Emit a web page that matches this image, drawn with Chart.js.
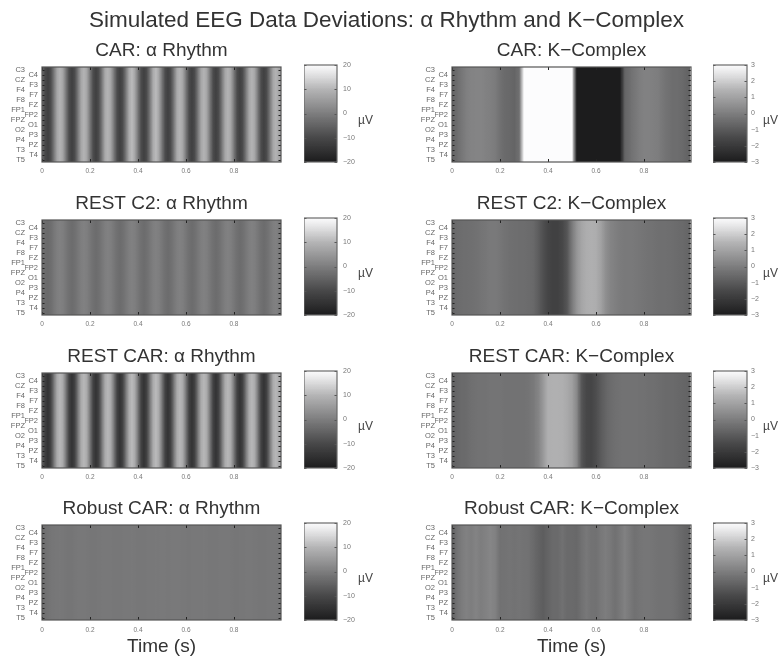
<!DOCTYPE html>
<html><head><meta charset="utf-8">
<script src="https://cdn.jsdelivr.net/npm/chart.js@4/dist/chart.umd.min.js"></script>
<style>
html,body{margin:0;padding:0;background:#fff;overflow:hidden}
#page{position:relative;width:781px;height:660px;filter:blur(0.6px);font-family:"Liberation Sans",Arial,sans-serif}
canvas{position:absolute;display:block}
.main{position:absolute;left:0;width:773px;top:8px;text-align:center;font-size:22.5px;line-height:24px;color:#333;white-space:nowrap}
.unit{position:absolute;font-size:12px;line-height:14px;color:#444}
</style></head><body><div id="page"><div class="main">Simulated EEG Data Deviations: α Rhythm and K−Complex</div></div>
<script>
const channels=['C3','C4','CZ','F3','F4','F7','F8','FZ','FP1','FP2','FPZ','O1','O2','P3','P4','PZ','T3','T4','T5'];
const xTickStep=0.2;
const alphaTimes=[0,.0125,.025,.0375,.05,.0625,.075,.0875,.1,.1125,.125,.1375,.15,.1625,.175,.1875,.2,.2125,.225,.2375,.25,.2625,.275,.2875,.3,.3125,.325,.3375,.35,.3625,.375,.3875,.4,.4125,.425,.4375,.45,.4625,.475,.4875,.5,.5125,.525,.5375,.55,.5625,.575,.5875,.6,.6125,.625,.6375,.65,.6625,.675,.6875,.7,.7125,.725,.7375,.75,.7625,.775,.7875,.8,.8125,.825,.8375,.85,.8625,.875,.8875,.9,.9125,.925,.9375,.95,.9625,.975,.9875];
const kTimes=[0,.02,.04,.06,.08,.1,.12,.14,.16,.18,.2,.22,.24,.26,.28,.3,.32,.34,.36,.38,.4,.42,.44,.46,.48,.5,.52,.54,.56,.58,.6,.62,.64,.66,.68,.7,.72,.74,.76,.78,.8,.82,.84,.86,.88,.9,.92,.94,.96,.98];
const alphaCar=[-3,-10,-12,-9,-1,7,10,7,-1,-9,-12,-9,-1,7,10,7,-1,-9,-12,-9,-1,8,10,7,-1,-9,-12,-9,-1,8,11,7,-1,-9,-12,-9,-1,8,11,7,-1,-9,-12,-9,-1,8,10,7,-1,-9,-12,-9,-1,7,10,7,-1,-9,-12,-9,-1,7,10,7,-1,-9,-12,-9,-1,7,10,7,-1,-9,-12,-9,-1,7,10,7];
const alphaRestC2=[-2.5,-3.4,-3.8,-2.8,-1.2,.2,.7,.2,-1.2,-2.5,-3.2,-2.5,-1.2,.2,.7,.2,-1.2,-2.5,-3.2,-2.5,-1.2,.2,.7,.2,-1.2,-2.5,-3.2,-2.5,-1.2,.2,.7,.2,-1.2,-2.5,-3.2,-2.5,-1.2,.2,.7,.2,-1.2,-2.5,-3.2,-2.5,-1.2,.2,.7,.2,-1.2,-2.5,-3.2,-2.5,-1.2,.2,.7,.2,-1.2,-2.5,-3.2,-2.5,-1.2,.2,.7,.2,-1.2,-2.5,-3.2,-2.5,-1.2,.2,.7,.2,-1.2,-2.5,-3.2,-2.5,-1.2,.2,.7,-.3];
const alphaRestCar=[-5,-12,-15,-11,-1,8,10.5,8,-1,-11,-15,-11,-1,8,10.5,8,-1,-11,-15,-11,-1,8,10.5,8,-1,-11,-15,-11,-1,8,11,8,-1,-11,-15,-11,-1,8,11,8,-1,-11,-15,-11,-1,8,10.5,8,-1,-11,-15,-11,-1,8,10.5,8,-1,-11,-15,-11,-1,8,10.5,8,-1,-11,-15,-11,-1,8,10.5,8,-1,-11,-15,-11,-1,8,10.5,8];
const alphaRobust=[-2.8,-2.6,-2,-1.5,-1.3,-1.1,-1,-1.2,-1.4,-1.5,-1.5,-1.2,-1,-1,-.9,-1.1,-1.3,-1.4,-1.3,-1.1,-1,-1,-.9,-1,-1.2,-1.2,-1.1,-1,-.9,-.9,-.8,-1,-1.1,-1.2,-1.1,-1,-.9,-.9,-.8,-.9,-.7,-.8,-.9,-.8,-.8,-.8,-.8,-.9,-1,-1.1,-1,-.9,-.9,-.9,-.8,-1,-1.1,-1.2,-1.1,-1,-.9,-1,-.9,-1.1,-1.3,-1.3,-1.2,-1.1,-1,-1,-1,-1.1,-1.3,-1.4,-1.3,-1.2,-1.1,-1.1,-1.1,-1.4];
const kCar=[-.7,-.5,-.2,.05,.15,.2,.2,.1,.05,-.05,-.35,-.55,-.6,-.7,-.4,3.3,3.3,3.3,3.3,3.3,3.3,3.3,3.3,3.3,3.3,3.3,-3.3,-3.3,-3.1,-3.1,-3.1,-3.1,-3.1,-3.1,-3.1,-3.1,-.7,-.45,-.2,0,.1,.1,.05,0,-.2,-.35,-.45,-.45,-.55,-.7];
const kRestC2=[-.65,-.5,-.45,-.42,-.4,-.35,-.25,-.2,-.1,-.1,-.2,-.3,-.4,-.42,-.45,-.45,-.5,-.6,-.9,-1.3,-1.6,-1.75,-1.75,-1.55,-1.1,-.1,.65,1.1,1.3,1.35,1.3,1,.5,.2,.05,-.05,-.1,-.1,-.15,-.2,-.25,-.3,-.35,-.4,-.4,-.42,-.45,-.5,-.55,-.65];
const kRestCar=[-.75,-.65,-.55,-.5,-.4,-.35,-.3,-.3,-.25,-.25,-.25,-.3,-.3,-.3,-.3,-.3,-.25,-.1,.2,.75,1.35,1.4,1.4,1.35,1.2,.95,.3,-1.1,-1.55,-1.6,-1.35,-1,-.7,-.5,-.4,-.35,-.3,-.3,-.3,-.35,-.35,-.4,-.4,-.45,-.5,-.55,-.55,-.6,-.65,-.7];
const kRobust=[-.8,-.35,-.05,.1,0,.15,0,.1,.25,.1,-.35,-.3,-.25,-.3,-.25,-.3,-.35,-.55,-.75,-.9,-.7,-.55,-.55,-.35,-.55,-.55,-.6,-.35,-.15,-.3,-.35,-.15,0,-.15,-.35,-.15,.1,-.1,-.35,-.25,-.2,-.2,-.25,-.3,-.3,-.3,-.35,-.45,-.6,-.75];
const alphaCbarLevels=[-20,-18,-16,-14,-12,-10,-8,-6,-4,-2,0,2,4,6,8,10,12,14,16,18,20];
const kCbarLevels=[-3,-2.7,-2.4,-2.1,-1.8,-1.5,-1.2,-.9,-.6,-.3,0,.3,.6,.9,1.2,1.5,1.8,2.1,2.4,2.7,3];
const cmapStops=[0,.25,.5,.75,.9,1];
const cmapGrays=[28,72,125,180,225,252];
const panelTitles=['CAR: α Rhythm','CAR: K−Complex','REST C2: α Rhythm','REST C2: K−Complex','REST CAR: α Rhythm','REST CAR: K−Complex','Robust CAR: α Rhythm','Robust CAR: K−Complex'];
const panelSeries=[alphaCar,kCar,alphaRestC2,kRestC2,alphaRestCar,kRestCar,alphaRobust,kRobust];

const FONT='"Liberation Sans",Arial,sans-serif';
const ROW_TOPS=[65,218,371,523], PLOT_H=97, COLS=[{x:42,w:239,cx:304,cw:33,ux:358},{x:452,w:239,cx:713,cw:34,ux:763}];
const CB_INSET=11;
const page=document.getElementById('page');

function grayOf(v,range){
  const f=Math.max(0,Math.min(1,(v+range)/(2*range)));
  let k=0; while(k<cmapStops.length-2&&f>cmapStops[k+1])k++;
  const g=cmapGrays[k]+(cmapGrays[k+1]-cmapGrays[k])*(f-cmapStops[k])/(cmapStops[k+1]-cmapStops[k]);
  return `rgb(${Math.round(g)},${Math.round(g)},${Math.round(g+1)})`;
}
// smooth fill of one sample's column, blending into its neighbours
function sampleFill(vals,pos,range,scaleId){
  return c=>{
    if(c.type!=='data')return '#808080';
    const s=c.chart.scales[scaleId]; const i=c.dataIndex;
    const p0=s.getPixelForValue(pos[Math.max(i-1,0)]),p1=s.getPixelForValue(pos[i]),p2=s.getPixelForValue(pos[Math.min(i+1,pos.length-1)]);
    const a=(p0+p1)/2,b=(p1+p2)/2;
    if(!isFinite(a)||!isFinite(b)||a===b)return grayOf(vals[i],range);
    const horizontal=scaleId==='x';
    const g=horizontal?c.chart.ctx.createLinearGradient(a,0,b,0):c.chart.ctx.createLinearGradient(0,a,0,b);
    const va=(vals[Math.max(i-1,0)]+vals[i])/2,vb=(vals[Math.min(i+1,vals.length-1)]+vals[i])/2;
    const t=Math.max(0,Math.min(1,(p1-a)/(b-a)));
    g.addColorStop(0,grayOf(va,range)); g.addColorStop(t,grayOf(vals[i],range)); g.addColorStop(1,grayOf(vb,range));
    return g;
  };
}
const framePlugin={id:'frame',afterDatasetsDraw(chart,_,o){
  const {ctx,chartArea:a,scales}=chart;
  ctx.save(); ctx.strokeStyle=o.tick; ctx.lineWidth=1;
  ctx.beginPath();
  if(o.xId)scales[o.xId].ticks.forEach((t,i)=>{const x=Math.round(scales[o.xId].getPixelForTick(i))+.5;ctx.moveTo(x,a.top);ctx.lineTo(x,a.top+3);ctx.moveTo(x,a.bottom);ctx.lineTo(x,a.bottom-3);});
  const ys=scales[o.yId];
  ys.ticks.forEach((t,i)=>{const y=Math.round(ys.getPixelForTick(i))+.5;ctx.moveTo(a.left,y);ctx.lineTo(a.left+2.5,y);ctx.moveTo(a.right,y);ctx.lineTo(a.right-2.5,y);});
  ctx.stroke();
  ctx.strokeStyle=o.color; ctx.lineWidth=o.width;
  ctx.strokeRect(a.left,a.top,a.right-a.left,a.bottom-a.top);
  ctx.restore();
}};
function mk(left,top,w,h){const c=document.createElement('canvas');c.width=w;c.height=h;c.style.left=left+'px';c.style.top=top+'px';c.style.width=w+'px';c.style.height=h+'px';page.appendChild(c);return c;}

panelTitles.forEach((title,idx)=>{
  const row=Math.floor(idx/2),colI=idx%2,col=COLS[colI],isAlpha=colI===0,last=row===3;
  const vals=panelSeries[idx],times=isAlpha?alphaTimes:kTimes,range=isAlpha?20:3;
  const top=ROW_TOPS[row];
  const axisH=last?37:18;
  const canvas=mk(col.x-42,top-24,42+col.w+3,24+PLOT_H+axisH);
  new Chart(canvas,{type:'bar',plugins:[framePlugin],
    data:{datasets:[{data:times.map(t=>({x:t,y:[0,channels.length]})),xAxisID:'x',yAxisID:'yv',
      backgroundColor:sampleFill(vals,times,range,'x'),borderWidth:0,barPercentage:isAlpha?1.4:1.25,categoryPercentage:1,grouped:false}]},
    options:{responsive:false,animation:false,devicePixelRatio:1,layout:{padding:{left:0,right:3,top:0,bottom:0}},
      events:[],
      plugins:{legend:{display:false},tooltip:{enabled:false},
        title:{display:true,text:title,fullSize:false,color:'#333',font:{family:FONT,size:19,weight:'normal',lineHeight:1},padding:{top:0,bottom:7}},
        frame:{xId:'x',yId:'yIn',color:'#555',width:1.2,tick:'#222'}},
      scales:{
        x:{type:'linear',offset:false,min:0,max:.996,grid:{display:false,drawTicks:false},border:{display:false},
          ticks:{stepSize:xTickStep,includeBounds:false,autoSkip:false,maxRotation:0,padding:last?6:5,color:'#777',font:{family:FONT,size:6.5}},
          title:{display:last,text:'Time (s)',color:'#333',font:{family:FONT,size:19,lineHeight:1},padding:{top:0,bottom:1}},
          afterFit:s=>{s.height=axisH;}},
        yv:{type:'linear',display:false,min:0,max:channels.length,reverse:true},
        yIn:{type:'category',position:'left',weight:0,offset:true,labels:channels.map((c,i)=>i%2?c:''),grid:{display:false,drawTicks:false},border:{display:false},
          ticks:{autoSkip:false,padding:4,color:'#666',font:{family:FONT,size:7.5}},afterFit:s=>{s.width=17;}},
        yOut:{type:'category',position:'left',weight:1,offset:true,labels:channels.map((c,i)=>i%2?'':c),grid:{display:false,drawTicks:false},border:{display:false},
          ticks:{autoSkip:false,padding:0,color:'#666',font:{family:FONT,size:7.5}},afterFit:s=>{s.width=25;}}
      }}});
  // colour bar
  const levels=isAlpha?alphaCbarLevels:kCbarLevels;
  const cbCanvas=mk(col.cx,top-CB_INSET,col.cw+30,PLOT_H+2*CB_INSET);
  new Chart(cbCanvas,{type:'bar',plugins:[framePlugin],
    data:{datasets:[{data:levels.map(l=>({x:[0,1],y:l})),xAxisID:'cx',yAxisID:'cy',
      backgroundColor:sampleFill(levels,levels,range,'cy'),borderWidth:0,barPercentage:1.25,categoryPercentage:1,grouped:false}]},
    options:{indexAxis:'y',responsive:false,animation:false,devicePixelRatio:1,events:[],layout:{padding:{top:CB_INSET,bottom:CB_INSET,left:0,right:0}},
      plugins:{legend:{display:false},tooltip:{enabled:false},frame:{yId:'cy',color:'#6a6a6a',width:1.2,tick:'#555'}},
      scales:{
        cx:{type:'linear',display:false,min:0,max:1},
        cy:{type:'linear',position:'right',min:-range,max:range,offset:false,grid:{display:false,drawTicks:false},border:{display:false},
          ticks:{stepSize:isAlpha?10:1,padding:isAlpha?6:4,color:'#777',font:{family:FONT,size:7},callback:v=>String(v).replace('-','−')},
          afterFit:s=>{s.width=30;}}
      }}});
  const u=document.createElement('div');u.className='unit';u.textContent='µV';u.style.left=col.ux+'px';u.style.top=(top+48)+'px';page.appendChild(u);
});
</script></body></html>
